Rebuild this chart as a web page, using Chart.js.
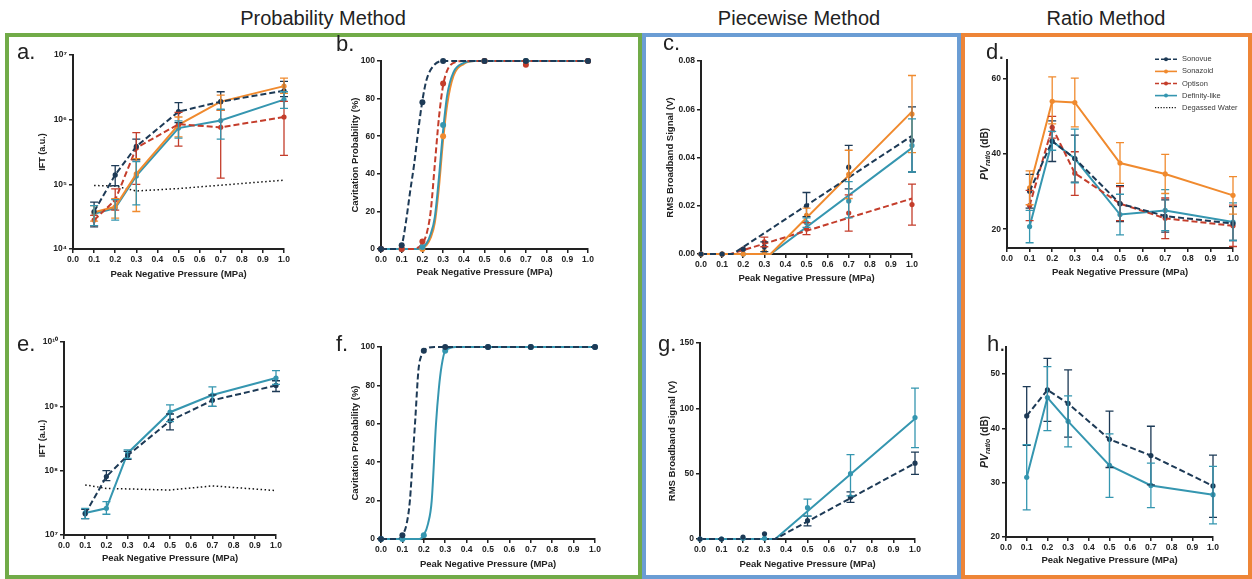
<!DOCTYPE html>
<html>
<head>
<meta charset="utf-8">
<script src="https://cdn.jsdelivr.net/npm/chart.js@4.4.1/dist/chart.umd.min.js"></script>
<style>
  body { margin: 0; width: 1252px; height: 579px; overflow: hidden; position: relative; background: #fff;
         font-family: 'Liberation Sans', Arial, sans-serif; color: #222; }
  .group { position: absolute; top: 33px; height: 546px; box-sizing: border-box; border: 4px solid; }
  .head { position: absolute; top: 8px; line-height: 20px; font-size: 20px; text-align: center; }
  .tag { position: absolute; font-size: 22px; line-height: 22px; z-index: 2; }
  canvas { position: absolute; }
</style>
</head>
<body>
<div class="group" style="left:5px;width:637px;border-color:#71ab48"></div>
<div class="group" style="left:642px;width:319px;border-color:#6b9dd4"></div>
<div class="group" style="left:961px;width:291px;border-color:#ee8537"></div>

<div class="head" style="left:123px;width:400px">Probability Method</div>
<div class="head" style="left:649px;width:300px">Piecewise Method</div>
<div class="head" style="left:956px;width:300px">Ratio Method</div>

<div class="tag" style="left:17px;top:41px">a.</div>
<div class="tag" style="left:336px;top:33px">b.</div>
<div class="tag" style="left:663px;top:32px">c.</div>
<div class="tag" style="left:986px;top:41px">d.</div>
<div class="tag" style="left:17px;top:333px">e.</div>
<div class="tag" style="left:336px;top:333px">f.</div>
<div class="tag" style="left:658px;top:333px">g.</div>
<div class="tag" style="left:987px;top:333px">h.</div>

<canvas id="pa"></canvas><canvas id="pb"></canvas><canvas id="pc"></canvas><canvas id="pd"></canvas>
<canvas id="pe"></canvas><canvas id="pf"></canvas><canvas id="pg"></canvas><canvas id="ph"></canvas>

<script>
// ---------- data ----------
const seriesNames = ['Sonovue', 'Sonazoid', 'Optison', 'Definity-like', 'Degassed Water'];

const pnp = [0.1, 0.2, 0.3, 0.5, 0.7, 1.0];
const pnpZero = [0.0, 0.1, 0.2, 0.3, 0.5, 0.7, 1.0];
const xTicks = [0, 0.1, 0.2, 0.3, 0.4, 0.5, 0.6, 0.7, 0.8, 0.9, 1.0];
const xTickLabels = ['0.0', '0.1', '0.2', '0.3', '0.4', '0.5', '0.6', '0.7', '0.8', '0.9', '1.0'];

// a. IFT, all agents
const iftTicksA = [1e4, 1e5, 1e6, 1e7];
const iftLabelsA = ['10⁴', '10⁵', '10⁶', '10⁷'];
const iftSonovueA = [3.8e4, 1.4e5, 3.85e5, 1.33e6, 1.9e6, 2.8e6];
const iftSonovueALo = [2.2e4, 9.5e4, 2.4e5, 9.0e5, 1.4e6, 2.27e6];
const iftSonovueAHi = [5.3e4, 1.95e5, 5.0e5, 1.84e6, 2.7e6, 3.9e6];
const iftSonazoidA = [3.7e4, 4.5e4, 1.45e5, 8.3e5, 1.9e6, 3.3e6];
const iftSonazoidALo = [2.7e4, 3.0e4, 3.8e4, 5.4e5, 1.4e6, 2.55e6];
const iftSonazoidAHi = [4.7e4, 6.0e4, 2.5e5, 1.1e6, 2.4e6, 4.4e6];
const iftOptisonA = [2.8e4, 5.7e4, 3.66e5, 8.5e5, 7.6e5, 1.1e6];
const iftOptisonALo = [2.3e4, 4.0e4, 1.0e5, 3.9e5, 1.25e5, 2.8e5];
const iftOptisonAHi = [3.3e4, 8.5e4, 6.3e5, 1.3e6, 1.4e6, 1.92e6];
const iftDefinityA = [3.5e4, 4.3e4, 1.35e5, 7.4e5, 9.7e5, 2.04e6];
const iftDefinityALo = [2.3e4, 2.8e4, 4.8e4, 5.2e5, 5.0e5, 1.5e6];
const iftDefinityAHi = [4.7e4, 5.8e4, 2.25e5, 9.6e5, 1.45e6, 2.7e6];
const iftWaterA = [9.6e4, 9.4e4, 7.9e4, 8.6e4, 9.7e4, 1.16e5];

// b. cavitation probability, measured points and fitted curves
const probTicks = [0, 20, 40, 60, 80, 100];
const probLabels = ['0', '20', '40', '60', '80', '100'];
const probSonovueB = [0, 2, 78, 100, 100, 100, 100];
const probSonazoidB = [0, 0, 0, 60, 100, 100, 100];
const probOptisonB = [0, 0, 4, 88, 100, 98, 100];
const probDefinityB = [0, 0, 1, 66, 100, 100, 100];
const curveSonovueBx = [0, 0.08, 0.1, 0.12, 0.14, 0.16, 0.18, 0.2, 0.22, 0.25, 0.3, 1.0];
const curveSonovueB = [0, 0, 2, 14, 30, 45, 63, 79, 90, 97, 100, 100];
const curveOptisonBx = [0, 0.15, 0.2, 0.22, 0.24, 0.26, 0.28, 0.3, 0.32, 0.35, 0.4, 1.0];
const curveOptisonB = [0, 0, 3, 8, 20, 45, 70, 87, 95, 99, 100, 100];
const curveDefinityBx = [0, 0.18, 0.2, 0.22, 0.24, 0.26, 0.28, 0.3, 0.32, 0.35, 0.4, 0.45, 1.0];
const curveDefinityB = [0, 0, 1, 3, 8, 17, 38, 63, 82, 94, 99, 100, 100];
const curveSonazoidBx = [0, 0.18, 0.2, 0.22, 0.24, 0.26, 0.28, 0.3, 0.32, 0.35, 0.4, 0.45, 1.0];
const curveSonazoidB = [0, 0, 0.5, 2, 6, 14, 33, 58, 77, 92, 98.5, 100, 100];

// c. RMS broadband signal with piecewise fits
const rmsTicksC = [0, 0.02, 0.04, 0.06, 0.08];
const rmsLabelsC = ['0.00', '0.02', '0.04', '0.06', '0.08'];
const rmsSonovueC = [0, 0, 0.002, 0.003, 0.020, 0.036, 0.047];
const rmsSonovueCLo = [null, null, null, 0.001, 0.0155, 0.027, 0.034];
const rmsSonovueCHi = [null, null, null, 0.005, 0.0255, 0.045, 0.061];
const rmsSonazoidC = [0, 0, 0, 0.001, 0.016, 0.033, 0.058];
const rmsSonazoidCLo = [null, null, null, null, 0.013, 0.023, 0.042];
const rmsSonazoidCHi = [null, null, null, null, 0.019, 0.043, 0.074];
const rmsOptisonC = [0, 0, 0.002, 0.005, 0.0105, 0.017, 0.0205];
const rmsOptisonCLo = [null, null, null, 0.003, 0.008, 0.0095, 0.012];
const rmsOptisonCHi = [null, null, null, 0.007, 0.013, 0.0245, 0.029];
const rmsDefinityC = [0, 0, 0, 0.001, 0.013, 0.022, 0.045];
const rmsDefinityCLo = [null, null, null, null, 0.011, 0.015, 0.034];
const rmsDefinityCHi = [null, null, null, null, 0.015, 0.030, 0.056];
const fitSonovueCx = [0, 0.15, 1.0], fitSonovueC = [0, 0, 0.049];
const fitSonazoidCx = [0, 0.33, 1.0], fitSonazoidC = [0, 0, 0.059];
const fitOptisonCx = [0, 0.14, 1.0], fitOptisonC = [0, 0, 0.023];
const fitDefinityCx = [0, 0.33, 1.0], fitDefinityC = [0, 0, 0.044];

// d. PV ratio, all agents
const pvTicksD = [20, 40, 60];
const pvLabelsD = ['20', '40', '60'];
const pvSonovueD = [30.1, 43.4, 38.8, 26.8, 23.5, 21.5];
const pvSonovueDLo = [25.6, 38.0, 32.5, 22.0, 19.2, 17.0];
const pvSonovueDHi = [34.6, 48.8, 45.0, 31.6, 27.8, 26.0];
const pvSonazoidD = [31.0, 54.0, 53.7, 37.6, 34.7, 29.0];
const pvSonazoidDLo = [26.5, 48.0, 47.2, 32.2, 29.5, 24.0];
const pvSonazoidDHi = [35.5, 60.5, 60.2, 43.0, 39.9, 34.0];
const pvOptisonD = [26.3, 47.1, 34.9, 26.8, 22.9, 20.9];
const pvOptisonDLo = [22.3, 44.2, 29.0, 22.3, 17.5, 15.4];
const pvOptisonDHi = [30.3, 50.0, 40.6, 31.3, 28.3, 26.4];
const pvDefinityD = [20.7, 43.4, 38.8, 23.9, 25.0, 21.9];
const pvDefinityDLo = [16.4, 41.0, 32.3, 18.5, 19.6, 17.0];
const pvDefinityDHi = [25.0, 46.0, 46.6, 29.3, 30.5, 27.0];

// e. IFT, Sonovue vs Definity-like
const iftTicksE = [1e7, 1e8, 1e9, 1e10];
const iftLabelsE = ['10⁷', '10⁸', '10⁹', '10¹⁰'];
const iftSonovueE = [2.13e7, 8.1e7, 1.72e8, 5.96e8, 1.24e9, 2.11e9];
const iftSonovueELo = [1.8e7, 7.0e7, 1.5e8, 4.3e8, 1.0e9, 1.7e9];
const iftSonovueEHi = [2.5e7, 1.0e8, 2.0e8, 7.6e8, 1.5e9, 2.5e9];
const iftDefinityE = [2.2e7, 2.6e7, 1.87e8, 8.1e8, 1.5e9, 2.75e9];
const iftDefinityELo = [1.8e7, 2.1e7, 1.55e8, 5.8e8, 1.0e9, 2.2e9];
const iftDefinityEHi = [2.6e7, 3.3e7, 2.1e8, 1.05e9, 2.0e9, 3.6e9];
const iftWaterE = [6.0e7, 5.3e7, 5.2e7, 5.0e7, 5.8e7, 4.9e7];

// f. cavitation probability, Sonovue vs Definity-like
const probSonovueF = [0, 2, 98, 100, 100, 100, 100];
const probDefinityF = [0, 0, 2, 98, 100, 100, 100];
const curveSonovueFx = [0, 0.08, 0.1, 0.12, 0.135, 0.15, 0.16, 0.175, 0.19, 0.2, 0.25, 1.0];
const curveSonovueF = [0, 0, 2, 8, 20, 45, 62, 88, 96, 98, 100, 100];
const curveDefinityFx = [0, 0.18, 0.2, 0.22, 0.237, 0.257, 0.27, 0.283, 0.3, 0.35, 1.0];
const curveDefinityF = [0, 0, 2, 8, 20, 60, 78, 90, 98, 100, 100];

// g. RMS broadband signal, Sonovue vs Definity-like
const rmsTicksG = [0, 50, 100, 150];
const rmsLabelsG = ['0', '50', '100', '150'];
const rmsSonovueG = [0, 0, 1.5, 4, 14, 32, 58];
const rmsSonovueGLo = [null, null, null, null, 10, 28, 49.5];
const rmsSonovueGHi = [null, null, null, null, 17.5, 36, 66.5];
const rmsDefinityG = [0, 0, 0.5, 0.5, 24, 50, 93];
const rmsDefinityGLo = [null, null, null, null, 17.5, 33, 70];
const rmsDefinityGHi = [null, null, null, null, 30.5, 64.5, 115.5];
const fitSonovueGx = [0, 0.35, 1.0], fitSonovueG = [0, 0, 58];
const fitDefinityGx = [0, 0.35, 1.0], fitDefinityG = [0, 0, 92];

// h. PV ratio, Sonovue vs Definity-like
const pvTicksH = [20, 30, 40, 50];
const pvLabelsH = ['20', '30', '40', '50'];
const pvSonovueH = [42.3, 47.1, 44.6, 38.0, 35.0, 29.4];
const pvSonovueHLo = [36.9, 41.3, 38.4, 32.8, 29.6, 23.6];
const pvSonovueHHi = [47.7, 52.9, 50.8, 43.2, 40.4, 35.1];
const pvDefinityH = [31.0, 45.7, 41.3, 33.2, 29.5, 27.8];
const pvDefinityHLo = [25.0, 39.6, 36.6, 27.3, 25.4, 22.4];
const pvDefinityHHi = [37.0, 51.4, 46.0, 39.0, 33.6, 33.0];

// ---------- styling ----------
const INK = '#222';
const STYLE = {
  sonovue:  { name: seriesNames[0], color: '#1d3a56', dash: [6, 3] },
  sonazoid: { name: seriesNames[1], color: '#f08a2e', dash: [] },
  optison:  { name: seriesNames[2], color: '#c43d2b', dash: [6, 3] },
  definity: { name: seriesNames[3], color: '#3596b0', dash: [] },
  water:    { name: seriesNames[4], color: '#111', dash: [1.5, 2.5] }
};
Chart.defaults.font.family = "'Liberation Sans', Arial, sans-serif";
Chart.defaults.color = INK;
const tickFont = { size: 8.5, weight: 'bold' };
const TITLE_SIZE = 9.5;

const pts = (xs, ys) => xs.map((x, i) => ({ x, y: ys[i] }));

// line with markers (and optional error bars)
function series(key, xs, ys, lo, hi, extra) {
  const s = STYLE[key];
  return Object.assign({
    label: s.name, data: pts(xs, ys),
    borderColor: s.color, backgroundColor: s.color, borderDash: s.dash,
    borderWidth: 2, pointRadius: 2.6, pointHoverRadius: 2.6, pointBorderWidth: 0,
    tension: 0, clip: false, errLo: lo, errHi: hi
  }, extra || {});
}
const water = (xs, ys) => series('water', xs, ys, null, null, { borderWidth: 1.5, pointRadius: 0 });
const curve = (key, xs, ys) => series(key, xs, ys, null, null, { pointRadius: 0, cubicInterpolationMode: 'monotone' });
const dots = (key, xs, ys) => series(key, xs, ys, null, null, { showLine: false, pointRadius: 3 });
const fit = (key, xs, ys) => series(key, xs, ys, null, null, { pointRadius: 0 });

// vertical error bars from errLo / errHi
const errorBars = {
  id: 'errorBars',
  afterDatasetsDraw(chart) {
    const { ctx, scales: { x, y } } = chart;
    chart.data.datasets.forEach(ds => {
      if (!ds.errLo) return;
      ctx.save();
      ctx.strokeStyle = ds.borderColor;
      ctx.lineWidth = 1.3;
      ds.data.forEach((p, j) => {
        if (ds.errLo[j] == null) return;
        const px = x.getPixelForValue(p.x);
        const y1 = y.getPixelForValue(ds.errLo[j]);
        const y2 = y.getPixelForValue(ds.errHi[j]);
        ctx.beginPath();
        ctx.moveTo(px, y1); ctx.lineTo(px, y2);
        ctx.moveTo(px - 4, y1); ctx.lineTo(px + 4, y1);
        ctx.moveTo(px - 4, y2); ctx.lineTo(px + 4, y2);
        ctx.stroke();
      });
      ctx.restore();
    });
  }
};

// "PV ratio (dB)" axis title with italic subscript
const pvTitle = {
  id: 'pvTitle',
  afterDraw(chart, args, opts) {
    const { ctx, chartArea } = chart;
    const parts = [
      { t: 'PV', f: "italic bold 10.5px 'Liberation Sans', Arial", dy: 0 },
      { t: 'ratio', f: "italic bold 7px 'Liberation Sans', Arial", dy: 3 },
      { t: ' (dB)', f: "bold 10px 'Liberation Sans', Arial", dy: 0 }
    ];
    ctx.save();
    ctx.translate(opts.x, (chartArea.top + chartArea.bottom) / 2);
    ctx.rotate(-Math.PI / 2);
    ctx.fillStyle = INK;
    ctx.textBaseline = 'middle';
    let w = 0;
    parts.forEach(p => { ctx.font = p.f; p.w = ctx.measureText(p.t).width; w += p.w; });
    let x = -w / 2;
    parts.forEach(p => { ctx.font = p.f; ctx.fillText(p.t, x, p.dy); x += p.w; });
    ctx.restore();
  }
};

// key drawn inside the plot area of panel d
const seriesKey = {
  id: 'seriesKey',
  afterDraw(chart, args, opts) {
    const { ctx, chartArea } = chart;
    ctx.save();
    opts.keys.forEach((k, i) => {
      const s = STYLE[k];
      const y = chartArea.top + opts.dy + i * opts.step;
      const x1 = chartArea.left + opts.dx, x2 = x1 + opts.len;
      ctx.strokeStyle = s.color;
      ctx.lineWidth = k === 'water' ? 1.2 : 1.6;
      ctx.setLineDash(k === 'water' ? [1.2, 1.6] : (s.dash.length ? [4, 2] : []));
      ctx.beginPath(); ctx.moveTo(x1, y); ctx.lineTo(x2, y); ctx.stroke();
      ctx.setLineDash([]);
      if (k !== 'water') {
        ctx.fillStyle = s.color;
        ctx.beginPath(); ctx.arc((x1 + x2) / 2, y, 2, 0, Math.PI * 2); ctx.fill();
      }
      ctx.fillStyle = '#3a3a3a';
      ctx.font = "7.5px 'Liberation Sans', Arial";
      ctx.textBaseline = 'middle';
      ctx.fillText(s.name, x2 + 5, y);
    });
    ctx.restore();
  }
};

function yAxis(type, min, max, ticks, labels, title, titleSize) {
  const size = titleSize || TITLE_SIZE;
  return {
    type, min, max,
    afterBuildTicks: s => { s.ticks = ticks.map(v => ({ value: v })); },
    ticks: { font: tickFont, color: INK, padding: 2, callback: (v, i) => labels[i] },
    grid: { drawOnChartArea: false, tickLength: 4, color: INK, lineWidth: 1.5 },
    border: { color: INK, width: 2 },
    title: title
      ? { display: true, text: title, color: INK, font: { size, weight: 'bold' },
          padding: { top: 10 - size * 0.6, bottom: 0 } }
      : { display: false }
  };
}

// box: plot area edges (L,T,R,B) and centres of the two axis titles
function panel(id, box, yScale, datasets, extraPlugins, pluginOpts) {
  const left = box.yTitleX - 10, top = box.T - 10;
  const right = box.R + 14, bottom = box.xTitleY + 8;
  const cv = document.getElementById(id);
  cv.width = right - left;
  cv.height = bottom - top;
  cv.style.left = left + 'px';
  cv.style.top = top + 'px';
  return new Chart(cv, {
    type: 'line',
    data: { datasets },
    options: {
      responsive: false, animation: false, events: [],
      layout: { padding: { left: 0, top: 10, right: 14, bottom: 0 } },
      plugins: Object.assign({ legend: { display: false }, tooltip: { enabled: false } }, pluginOpts || {}),
      scales: {
        x: {
          type: 'linear', min: 0, max: 1,
          afterBuildTicks: s => { s.ticks = xTicks.map(v => ({ value: v })); },
          ticks: { font: tickFont, color: INK, padding: 2, maxRotation: 0, autoSkip: false,
                   callback: (v, i) => xTickLabels[i] },
          grid: { drawOnChartArea: false, tickLength: 4, color: INK, lineWidth: 1.5 },
          border: { color: INK, width: 2 },
          title: { display: true, text: 'Peak Negative Pressure (MPa)', color: INK,
                   font: { size: TITLE_SIZE, weight: 'bold' },
                   padding: { top: 0, bottom: 8 - TITLE_SIZE * 0.6 } },
          afterFit: s => { s.height = bottom - box.B; }
        },
        y: Object.assign(yScale, { afterFit: s => { s.width = box.L - left; } })
      }
    },
    plugins: [errorBars].concat(extraPlugins || [])
  });
}

// ---------- panels ----------
panel('pa', { L: 73, T: 55, R: 284, B: 249, yTitleX: 43, xTitleY: 274 },
  yAxis('logarithmic', 1e4, 1e7, iftTicksA, iftLabelsA, 'IFT (a.u.)', 9), [
    series('sonovue', pnp, iftSonovueA, iftSonovueALo, iftSonovueAHi),
    series('optison', pnp, iftOptisonA, iftOptisonALo, iftOptisonAHi),
    series('sonazoid', pnp, iftSonazoidA, iftSonazoidALo, iftSonazoidAHi),
    series('definity', pnp, iftDefinityA, iftDefinityALo, iftDefinityAHi),
    water(pnp, iftWaterA)
  ]);

panel('pb', { L: 381, T: 61, R: 588, B: 249, yTitleX: 355, xTitleY: 272 },
  yAxis('linear', 0, 100, probTicks, probLabels, 'Cavitation Probability (%)'), [
    dots('sonovue', pnpZero, probSonovueB),
    dots('optison', pnpZero, probOptisonB),
    dots('definity', pnpZero, probDefinityB),
    dots('sonazoid', pnpZero, probSonazoidB),
    curve('sonovue', curveSonovueBx, curveSonovueB),
    curve('optison', curveOptisonBx, curveOptisonB),
    curve('definity', curveDefinityBx, curveDefinityB),
    curve('sonazoid', curveSonazoidBx, curveSonazoidB)
  ]);

panel('pc', { L: 701, T: 61, R: 912, B: 254, yTitleX: 670, xTitleY: 278 },
  yAxis('linear', 0, 0.08, rmsTicksC, rmsLabelsC, 'RMS Broadband Signal (V)'), [
    series('sonovue', pnpZero, rmsSonovueC, rmsSonovueCLo, rmsSonovueCHi, { showLine: false }),
    series('sonazoid', pnpZero, rmsSonazoidC, rmsSonazoidCLo, rmsSonazoidCHi, { showLine: false }),
    series('optison', pnpZero, rmsOptisonC, rmsOptisonCLo, rmsOptisonCHi, { showLine: false }),
    series('definity', pnpZero, rmsDefinityC, rmsDefinityCLo, rmsDefinityCHi, { showLine: false }),
    fit('sonovue', fitSonovueCx, fitSonovueC),
    fit('sonazoid', fitSonazoidCx, fitSonazoidC),
    fit('optison', fitOptisonCx, fitOptisonC),
    fit('definity', fitDefinityCx, fitDefinityC)
  ]);

panel('pd', { L: 1007, T: 60, R: 1233, B: 248, yTitleX: 985, xTitleY: 272 },
  yAxis('linear', 15, 65, pvTicksD, pvLabelsD, null), [
    series('sonovue', pnp, pvSonovueD, pvSonovueDLo, pvSonovueDHi),
    series('optison', pnp, pvOptisonD, pvOptisonDLo, pvOptisonDHi),
    series('definity', pnp, pvDefinityD, pvDefinityDLo, pvDefinityDHi),
    series('sonazoid', pnp, pvSonazoidD, pvSonazoidDLo, pvSonazoidDHi)
  ], [pvTitle, seriesKey], {
    pvTitle: { x: 10 },
    seriesKey: { keys: ['sonovue', 'sonazoid', 'optison', 'definity', 'water'], dx: 148, dy: -0.7, step: 12.1, len: 22 }
  });

panel('pe', { L: 64, T: 342, R: 276, B: 535, yTitleX: 43, xTitleY: 558 },
  yAxis('logarithmic', 1e7, 1e10, iftTicksE, iftLabelsE, 'IFT (a.u.)', 9), [
    series('sonovue', pnp, iftSonovueE, iftSonovueELo, iftSonovueEHi),
    series('definity', pnp, iftDefinityE, iftDefinityELo, iftDefinityEHi),
    water(pnp, iftWaterE)
  ]);

panel('pf', { L: 381, T: 347, R: 595, B: 539, yTitleX: 355, xTitleY: 564 },
  yAxis('linear', 0, 100, probTicks, probLabels, 'Cavitation Probability (%)'), [
    dots('sonovue', pnpZero, probSonovueF),
    dots('definity', pnpZero, probDefinityF),
    curve('sonovue', curveSonovueFx, curveSonovueF),
    curve('definity', curveDefinityFx, curveDefinityF)
  ]);

panel('pg', { L: 700, T: 343, R: 915, B: 539, yTitleX: 672, xTitleY: 564 },
  yAxis('linear', 0, 150, rmsTicksG, rmsLabelsG, 'RMS Broadband Signal (V)'), [
    series('sonovue', pnpZero, rmsSonovueG, rmsSonovueGLo, rmsSonovueGHi, { showLine: false }),
    series('definity', pnpZero, rmsDefinityG, rmsDefinityGLo, rmsDefinityGHi, { showLine: false }),
    fit('sonovue', fitSonovueGx, fitSonovueG),
    fit('definity', fitDefinityGx, fitDefinityG)
  ]);

panel('ph', { L: 1006, T: 347, R: 1213, B: 537, yTitleX: 985, xTitleY: 560 },
  yAxis('linear', 20, 55, pvTicksH, pvLabelsH, null), [
    series('sonovue', pnp, pvSonovueH, pvSonovueHLo, pvSonovueHHi),
    series('definity', pnp, pvDefinityH, pvDefinityHLo, pvDefinityHHi)
  ], [pvTitle], { pvTitle: { x: 10 } });
</script>
</body>
</html>
